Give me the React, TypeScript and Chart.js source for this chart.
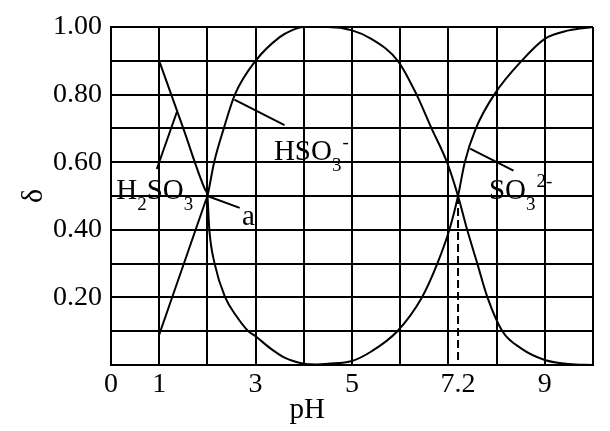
import React, { useEffect, useRef } from "react";
import { Chart, registerables } from "chart.js";

Chart.register(...registerables);

const FAMILY = '"Liberation Serif", "Times New Roman", serif';

// pH positions of the vertical grid lines and the labelled ticks
const xGridValues = [0, 1, 2, 3, 4, 5, 6, 7, 7.2, 8, 9, 10];
const xLabeled = [0, 1, 3, 5, 7.2, 9];
const yLabeled = [0.2, 0.4, 0.6, 0.8, 1.0];

// H2SO3 distribution fraction
const h2so3X = [1, 1.5, 1.95, 2, 2.04, 2.15, 2.37, 2.6, 2.85, 3.0, 3.3, 3.6, 4.0, 4.3];
const h2so3Y = [0.9, 0.7, 0.52, 0.5, 0.4, 0.3, 0.2, 0.145, 0.1, 0.085, 0.05, 0.022, 0.004, 0];

// HSO3- distribution fraction
const hso3X = [1, 1.5, 1.95, 2, 2.14, 2.34, 2.57, 3.0, 3.5, 3.75, 4.0, 4.5, 5.0, 5.4, 5.95, 6.34, 6.65, 6.97, 7.2, 7.39, 7.6, 7.81, 8.12, 8.5, 9.0, 9.5, 10];
const hso3Y = [0.09, 0.295, 0.48, 0.5, 0.6, 0.7, 0.8, 0.9, 0.97, 0.99, 1.0, 1.0, 0.99, 0.965, 0.9, 0.8, 0.7, 0.6, 0.5, 0.4, 0.3, 0.2, 0.1, 0.05, 0.015, 0.003, 0];

// SO3 2- distribution fraction
const so3X = [4.0, 4.5, 5.0, 5.4, 5.94, 6.45, 6.77, 7.02, 7.2, 7.34, 7.57, 7.95, 8.52, 9.0, 9.5, 10];
const so3Y = [0, 0.004, 0.012, 0.04, 0.1, 0.2, 0.3, 0.4, 0.5, 0.6, 0.7, 0.8, 0.9, 0.965, 0.99, 1.0];

// dashed marker at pH 7.2
const dashX = [7.2, 7.2];
const dashY = [0.5, 0];

// label pointer lines
const ptrH2so3X = [0.95, 1.37];
const ptrH2so3Y = [0.58, 0.75];
const ptrAX = [2, 2.67];
const ptrAY = [0.5, 0.465];
const ptrHso3X = [2.56, 3.6];
const ptrHso3Y = [0.785, 0.71];
const ptrSo3X = [7.45, 8.35];
const ptrSo3Y = [0.64, 0.575];

// labels: parts of [text, kind] where kind 0 normal, -1 subscript, 1 superscript
const labelTexts: [string, number][][] = [
  [["H", 0], ["2", -1], ["SO", 0], ["3", -1]],
  [["a", 0]],
  [["HSO", 0], ["3", -1], ["-", 1]],
  [["SO", 0], ["3", -1], ["2-", 1]],
];
const labelX = [0.11, 2.72, 3.38, 7.84];
const labelY = [0.49, 0.414, 0.606, 0.49];

const pts = (xs: number[], ys: number[]) => xs.map((x, i) => ({ x, y: ys[i] }));

const near = (a: number, b: number) => Math.abs(a - b) < 1e-6;

export default function App() {
  const ref = useRef<HTMLCanvasElement | null>(null);

  useEffect(() => {
    if (!ref.current) return;
    const curve = (xs: number[], ys: number[]) => ({
      data: pts(xs, ys),
      borderColor: "#000",
      borderWidth: 2,
      pointRadius: 0,
      fill: false,
      cubicInterpolationMode: "monotone" as const,
    });
    const straight = (xs: number[], ys: number[], dash: number[] = []) => ({
      data: pts(xs, ys),
      borderColor: "#000",
      borderWidth: 2,
      pointRadius: 0,
      fill: false,
      tension: 0,
      borderDash: dash,
    });

    const labelPlugin = {
      id: "chemLabels",
      afterDatasetsDraw(chart: any) {
        const { ctx, scales, chartArea } = chart;
        const xs = scales.x;
        const ys = scales.y;
        ctx.save();
        ctx.fillStyle = "#000";
        ctx.textBaseline = "alphabetic";
        ctx.textAlign = "left";
        labelTexts.forEach((parts, i) => {
          let px = xs.getPixelForValue(labelX[i]);
          const py = ys.getPixelForValue(labelY[i]);
          parts.forEach(([t, kind]) => {
            if (kind === 0) {
              ctx.font = `29px ${FAMILY}`;
              ctx.fillText(t, px, py);
            } else if (kind === -1) {
              ctx.font = `19px ${FAMILY}`;
              ctx.fillText(t, px, py + 11);
            } else {
              ctx.font = `19px ${FAMILY}`;
              ctx.fillText(t, px + 1, py - 12);
            }
            px += ctx.measureText(t).width;
          });
        });
        // x-axis title
        ctx.font = `29px ${FAMILY}`;
        ctx.textAlign = "center";
        const cx = chartArea.left + (chartArea.right - chartArea.left) * 0.407;
        ctx.fillText("pH", cx, 418);
        ctx.restore();
      },
    };

    const chart = new Chart(ref.current, {
      type: "line",
      data: {
        datasets: [
          curve(h2so3X, h2so3Y),
          curve(hso3X, hso3Y),
          curve(so3X, so3Y),
          straight(dashX, dashY, [8, 4]),
          straight(ptrH2so3X, ptrH2so3Y),
          straight(ptrAX, ptrAY),
          straight(ptrHso3X, ptrHso3Y),
          straight(ptrSo3X, ptrSo3Y),
        ] as any,
      },
      options: {
        animation: false,
        responsive: false,
        devicePixelRatio: 1,
        layout: { padding: { top: 27, right: 17, left: 0, bottom: 0 } },
        plugins: { legend: { display: false }, tooltip: { enabled: false } },
        scales: {
          x: {
            type: "linear",
            min: 0,
            max: 10,
            afterBuildTicks: (scale: any) => {
              scale.ticks = xGridValues.map((v) => ({ value: v }));
            },
            afterFit: (scale: any) => {
              scale.height = 66;
            },
            ticks: {
              autoSkip: false,
              maxRotation: 0,
              padding: 3,
              color: "#000",
              font: { size: 28, family: FAMILY },
              callback: (v: any) => (xLabeled.some((l) => near(l, Number(v))) ? String(v) : ""),
            },
            grid: {
              drawTicks: false,
              lineWidth: 2,
              color: (c: any) => (c.tick && near(c.tick.value, 7.2) ? "rgba(0,0,0,0)" : "#000"),
            },
            border: { display: true, color: "#000", width: 2 },
          },
          y: {
            type: "linear",
            min: 0,
            max: 1,
            afterFit: (scale: any) => {
              scale.width = 111;
            },
            ticks: {
              stepSize: 0.1,
              autoSkip: false,
              padding: 9,
              color: "#000",
              font: { size: 28, family: FAMILY },
              callback: (v: any) => (yLabeled.some((l) => near(l, Number(v))) ? Number(v).toFixed(2) : ""),
            },
            grid: { drawTicks: false, lineWidth: 2, color: "#000" },
            border: { display: true, color: "#000", width: 2 },
            title: {
              display: true,
              text: "δ",
              color: "#000",
              font: { size: 30, family: FAMILY },
              padding: { top: 16, bottom: 0 },
            },
          },
        },
      } as any,
      plugins: [labelPlugin],
    });
    return () => chart.destroy();
  }, []);

  return (
    <div style={{ position: "absolute", left: 0, top: 0, width: 610, height: 431, background: "#fff" }}>
      <canvas ref={ref} width={610} height={431} />
    </div>
  );
}
